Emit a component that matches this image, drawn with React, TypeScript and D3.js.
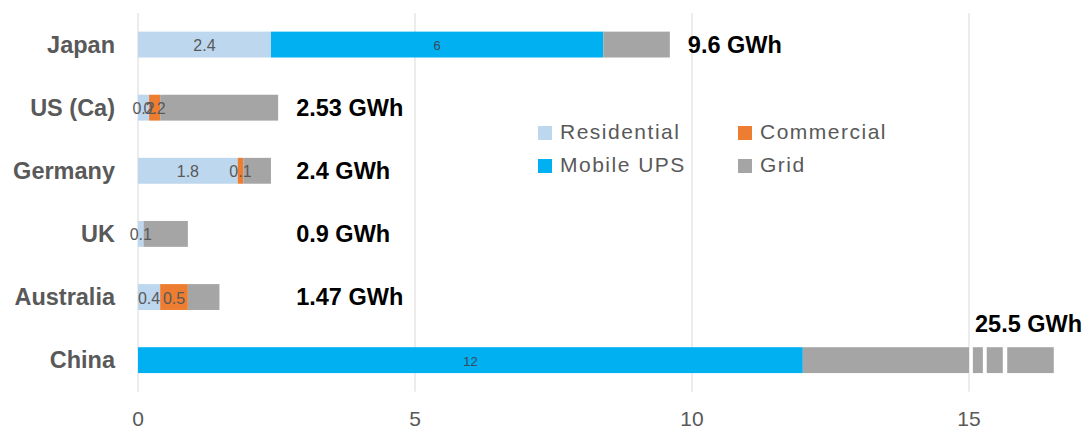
import React from "react";
import * as d3 from "d3";

const categories = ["Japan", "US (Ca)", "Germany", "UK", "Australia", "China"];
const residential = [2.4, 0.2, 1.8, 0.1, 0.4, 0];
const commercial = [0, 0.2, 0.1, 0, 0.5, 0];
const mobileUps = [6, 0, 0, 0, 0, 12];
const grid = [1.2, 2.13, 0.5, 0.8, 0.57, 13.5];
const totalLabels = ["9.6 GWh", "2.53 GWh", "2.4 GWh", "0.9 GWh", "1.47 GWh", "25.5 GWh"];
const xTicks = [0, 5, 10, 15];
const axisMax = 15;
// stubs drawn past the broken axis for the overflowing bar (data units)
const breakPieces: [number, number][] = [[15.07, 15.25], [15.32, 15.61], [15.69, 16.53]];

const seriesNames = ["Residential", "Commercial", "Mobile UPS", "Grid"];
const seriesColors = ["#BDD7EE", "#ED7D31", "#00B0F0", "#A5A5A5"];
const seriesShowLabel = [true, true, true, false];

export default function App() {
  const W = 1086, H = 428;
  const left = 138, right = 969, top = 13, bottom = 391.7;
  const x = d3.scaleLinear().domain([0, axisMax]).range([left, right]);
  const y = d3.scaleBand<string>().domain(categories).range([top, bottom]).paddingInner(0.59).paddingOuter(0.295);
  const bh = y.bandwidth();

  const rows = categories.map((c, i) => ({
    cat: c,
    vals: [residential[i], commercial[i], mobileUps[i], grid[i]],
  }));
  const stack = d3.stack<any>().keys(["0", "1", "2", "3"]).value((d, k) => d.vals[+k]);
  const stacked = stack(rows);

  const font = "'Liberation Sans', Arial, sans-serif";
  const usEnd = d3.sum(rows[1].vals);

  return (
    <svg width={W} height={H} style={{ display: "block", position: "absolute", left: 0, top: 0 }}>
      <rect width={W} height={H} fill="#fff" />
      {xTicks.map((t) => (
        <g key={t}>
          <line x1={x(t)} x2={x(t)} y1={top} y2={bottom} stroke="#D9D9D9" strokeWidth={1} />
          <text x={x(t)} y={418} textAnchor="middle" dominantBaseline="central" fontFamily="'Liberation Sans Narrow', 'Liberation Sans', sans-serif" fontSize={21} fill="#595959">{t}</text>
        </g>
      ))}
      {stacked.map((s, si) => (
        <g key={si}>
          {s.map((d, i) => {
            const v = d[1] - d[0];
            if (v <= 0) return null;
            const x0 = x(Math.min(d[0], axisMax));
            const x1 = x(Math.min(d[1], axisMax));
            return <rect key={i} x={x0} y={y(categories[i])!} width={x1 - x0} height={bh} fill={seriesColors[si]} />;
          })}
        </g>
      ))}
      {stacked.map((s, si) =>
        s.map((d, i) => {
          const v = d[1] - d[0];
          if (v <= 0 || !seriesShowLabel[si]) return null;
          const cx = x((d[0] + d[1]) / 2);
          const small = si === 2;
          return (
            <text key={`${si}-${i}`} x={cx} y={y(categories[i])! + bh / 2 + 1} textAnchor="middle" dominantBaseline="central"
              fontFamily={font} fontSize={small ? 13 : 16} fill={small ? "#3A4A5A" : "#595959"}>
              {String(+v.toFixed(2))}
            </text>
          );
        })
      )}
      {rows.map((r, i) => {
        const total = d3.sum(r.vals);
        if (total <= axisMax) return null;
        return breakPieces.map((p, j) => (
          <rect key={`b${j}`} x={x(p[0])} y={y(r.cat)!} width={x(p[1]) - x(p[0])} height={bh} fill={seriesColors[3]} />
        ));
      })}
      {categories.map((c) => (
        <text key={c} x={115} y={y(c)! + bh / 2} textAnchor="end" dominantBaseline="central" fontFamily={font} fontWeight="bold" fontSize={23.5} fill="#595959">{c}</text>
      ))}
      {rows.map((r, i) => {
        const total = d3.sum(r.vals);
        if (total > axisMax) {
          return <text key={i} x={x(axisMax) + 6} y={y(r.cat)! - 15} fontFamily={font} fontWeight="bold" fontSize={23.5} fill="#000">{totalLabels[i]}</text>;
        }
        const lx = x(Math.max(total, usEnd)) + 18;
        return <text key={i} x={lx} y={y(r.cat)! + bh / 2} dominantBaseline="central" fontFamily={font} fontWeight="bold" fontSize={23.5} fill="#000">{totalLabels[i]}</text>;
      })}
      {seriesNames.map((n, i) => {
        const col = i % 2 === 0 ? 0 : 1;
        const row = i === 0 || i === 1 ? 0 : 1;
        const order = [0, 1, 2, 3];
        const lx = 538 + col * 200;
        const ly = 131 + row * 33;
        return (
          <g key={n}>
            <rect x={lx} y={ly - 5} width={14} height={14} fill={seriesColors[order[i] === 1 ? 1 : order[i]]} />
            <text x={lx + 22} y={ly} dominantBaseline="central" fontFamily={font} fontSize={21} letterSpacing={1.5} fill="#595959">{n}</text>
          </g>
        );
      })}
    </svg>
  );
}
